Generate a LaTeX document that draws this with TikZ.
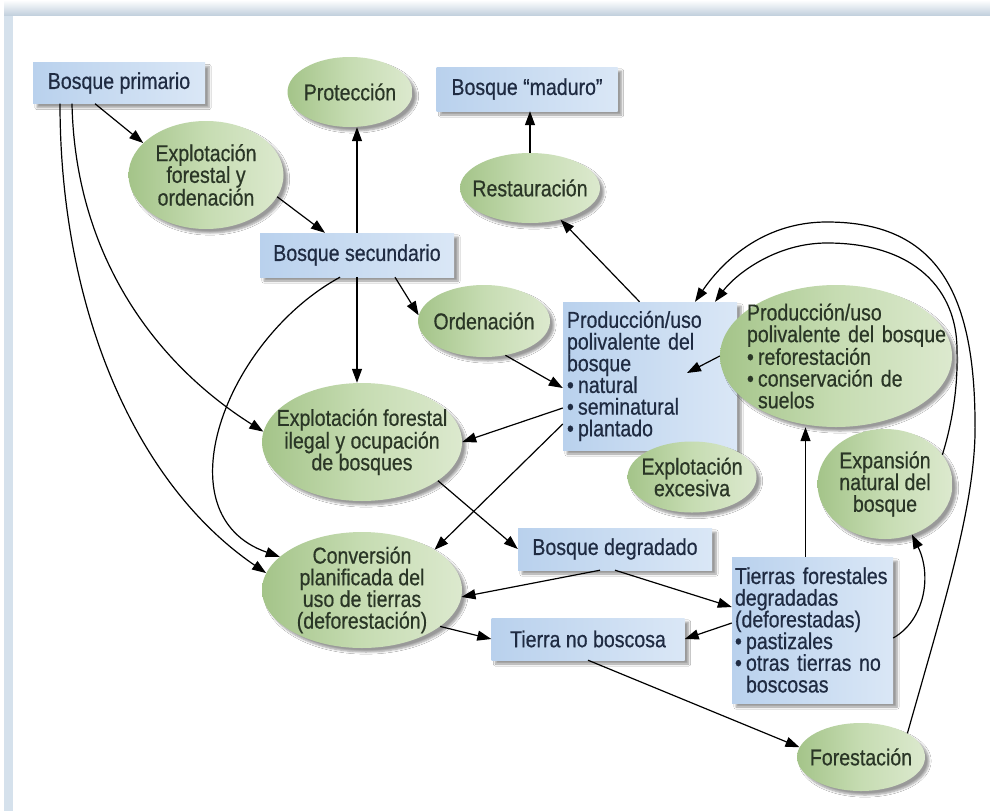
\documentclass[tikz,border=0pt]{standalone}
\usepackage{fontspec}
\setmainfont{Liberation Sans}[FakeStretch=0.85,FakeBold=0.6]
\usetikzlibrary{arrows.meta,shapes.geometric,shadows.blur}
\definecolor{boxL}{HTML}{B9D1ED}
\definecolor{boxR}{HTML}{DAE7F6}
\definecolor{ellL}{HTML}{A4C489}
\definecolor{ellM}{HTML}{C6DCB2}
\definecolor{ellR}{HTML}{DCE9CE}
\definecolor{boxtxt}{HTML}{1F2B42}
\definecolor{elltxt}{HTML}{2A3626}
\definecolor{bandc}{HTML}{D5E1EC}
\definecolor{bandtop}{HTML}{C3D1DE}
\newcommand\myb{\makebox[11pt][l]{•}}
\newcommand\myind{\hspace*{11pt}}
\newcommand\myln[1]{\mbox{#1}}
\begin{document}
\begin{tikzpicture}[x=1pt,y=-1pt,
  every node/.style={font=\fontsize{23}{21.7}\selectfont},
  bx/.style={rectangle, draw=none, left color=boxL, right color=boxR, text=boxtxt,
     inner sep=0pt, blur shadow={shadow xshift=4pt, shadow yshift=-4pt, shadow blur steps=6}},
  el/.style={ellipse, draw=none, left color=ellL, right color=ellR, middle color=ellM,
     text=elltxt, align=center, inner xsep=-25pt, inner ysep=-12pt,
     blur shadow={shadow xshift=4pt, shadow yshift=-4pt, shadow blur steps=6}},
  arr/.style={draw=black, line width=1.2pt, -{Triangle[length=14pt,width=10pt]}},
]
\useasboundingbox (0,0) rectangle (990,811);
% frame
\fill[white] (0,0) rectangle (990,811);
\fill[bandc] (4,0) rectangle (13,811);
\shade[top color=white, bottom color=bandtop] (4,0) rectangle (990,15);

% nodes
\node[bx, minimum width=172pt, minimum height=41pt] (bp) at (119,83) {Bosque primario};
\node[el, minimum width=125pt, minimum height=70pt] (prot) at (350,92) {Protección};
\node[bx, minimum width=181pt, minimum height=44pt] (mad) at (527,89) {Bosque “maduro”};
\node[el, minimum width=155pt, minimum height=108pt] (efo) at (206,175) {Explotación\\forestal y\\ordenación};
\node[el, minimum width=140pt, minimum height=70pt] (rest) at (530,188) {Restauración};
\node[bx, minimum width=194pt, minimum height=44pt] (bs) at (357,255) {Bosque secundario};
\node[el, minimum width=132pt, minimum height=72pt] (ord) at (484,321) {Ordenación};
\node[bx, minimum width=174pt, minimum height=148pt, text width=166pt, align=left] (pb) at (650,376)
  {\myln{Producción/uso}\\\myln{polivalente del}\\\myln{bosque}\\\myln{\myb natural}\\\myln{\myb seminatural}\\\myln{\myb plantado}};
\node[el, minimum width=232pt, minimum height=142pt, text width=178pt, align=left] (pe) at (836,356)
  {\myln{Producción/uso}\\\myln{polivalente del bosque}\\\myln{\myb reforestación}\\\myln{\myb conservación de}\\\myln{\myind suelos}};
\node[el, minimum width=200pt, minimum height=118pt] (eil) at (362,442) {Explotación forestal\\ilegal y ocupación\\de bosques};
\node[el, minimum width=129pt, minimum height=71pt] (eex) at (692,477) {Explotación\\excesiva};
\node[el, minimum width=135pt, minimum height=110pt] (exp) at (885,484) {Expansión\\natural del\\bosque};
\node[el, minimum width=200pt, minimum height=116pt] (conv) at (362,590) {Conversión\\planificada del\\uso de tierras\\(deforestación)};
\node[bx, minimum width=194pt, minimum height=42pt] (bdeg) at (615,549) {Bosque degradado};
\node[bx, minimum width=161pt, minimum height=146pt, text width=155pt, align=left] (tfd) at (812.5,630)
  {\myln{Tierras forestales}\\\myln{degradadas}\\\myln{(deforestadas)}\\\myln{\myb pastizales}\\\myln{\myb otras tierras no}\\\myln{\myind boscosas}};
\node[bx, minimum width=193pt, minimum height=42pt] (tnb) at (588,639) {Tierra no boscosa};
\node[el, minimum width=128pt, minimum height=68pt] (fore) at (861,757) {Forestación};

\coordinate (tfdn) at ([xshift=-7pt]tfd.north);

% connectors
\draw[arr] ([xshift=-24pt]bp.south) -- (efo.153);
\draw[arr] (efo.-17) -- ([xshift=-32pt]bs.north);
\draw[arr] (bs.north) -- (bs.north |- prot.south);
\draw[arr] (rest.north) -- (rest.north |- mad.south);
\draw[arr] (pb.98) -- (rest);
\draw[arr] ([xshift=38pt]bs.south) -- (ord.175);
\draw[arr] (bs.south) -- (bs.south |- eil.north);
\draw[arr] ([xshift=-17pt]bs.south) .. controls (225,340) and (160,515) .. (conv.158);
\draw[arr] ([xshift=-47pt]bp.south) .. controls (75,250) and (150,360) .. (eil.174);
\draw[arr] ([xshift=-59pt]bp.south) .. controls (60,300) and (130,480) .. (conv.170);
\draw[arr] (ord.-58) -- ([yshift=-12pt]pb.west);
\draw[arr] ([yshift=-32pt]pb.west) -- (eil.east);
\draw[arr] ([yshift=-48pt]pb.west) -- (conv.29);
\draw[arr] (pe.west) -- ([xshift=37pt,yshift=3pt]pb.center);
\draw[arr] (eil.-27) -- (bdeg.west);
\draw[arr] ([xshift=-15pt]bdeg.south) -- (conv.-4);
\draw[arr] (bdeg.south) -- ([yshift=23pt]tfd.west);
\draw[arr] (conv.-25) -- (tnb.west);
\draw[arr] ([yshift=7pt]tfd.west) -- (tnb.east);
\draw[arr] (tfdn) -- (tfdn |- pe.south);
\draw[arr] ([yshift=-8pt]tfd.east) .. controls (925,620) and (932,575) .. (exp.-62);
\draw[arr] (tnb.south) -- (fore.171);
\draw[arr] (fore.27) .. controls (945,600) and (977,500) .. (975,420)
  .. controls (974,290) and (935,222) .. (827,222)
  .. controls (760,222) and (720,265) .. ([xshift=45pt]pb.north);
\draw[arr] (exp.27) .. controls (953,420) and (958,385) .. (957,350)
  .. controls (957,290) and (915,243) .. (827,243)
  .. controls (775,243) and (735,275) .. ([xshift=65pt]pb.north);
\end{tikzpicture}
\end{document}
